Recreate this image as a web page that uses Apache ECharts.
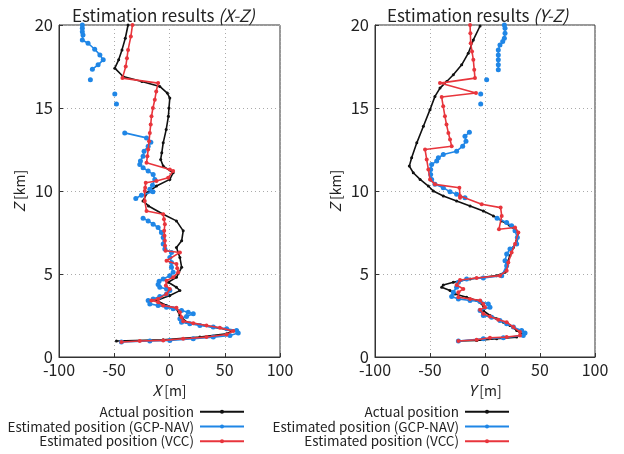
<!DOCTYPE html>
<html>
<head>
<meta charset="utf-8">
<script src="https://cdn.jsdelivr.net/npm/echarts@6/dist/echarts.min.js"></script>
<style>html,body{margin:0;padding:0;background:#fff;}#c{width:624px;height:454px;}</style>
</head>
<body>
<div id="c"></div>
<script>
// ---- data: [horizontal position (m), altitude Z (km)] ----
const GAP = ['-', '-'];
const seriesNames = ['Actual position', 'Estimated position (GCP-NAV)', 'Estimated position (VCC)'];
const xTicks = [-100, -50, 0, 50, 100];
const zTicks = [0, 5, 10, 15, 20];

const xzActual = [[-37.5,20],[-40,19.2],[-43,18.5],[-46,17.9],[-49.5,17.4],[-42,16.9],[-25,16.6],[-8.8,16.3],[-2,15.9],[0.3,15.6],[-0.5,15.0],[-1,14.5],[-3,13.7],[-5.7,12.9],[-7,12.3],[-8,11.9],[-5.7,11.5],[3.3,11.1],[0.3,10.7],[-11.8,10.3],[-20,9.9],[-24,9.4],[-19,9.1],[-5.7,8.6],[6.3,8.2],[12.4,7.6],[11,7.0],[6.3,6.6],[9.4,6.0],[11,5.4],[6.3,4.8],[-1.2,4.5],[6.3,4.2],[9.4,4.0],[0.3,3.7],[-11.8,3.4],[-2.7,3.1],[6.3,2.9],[9.4,2.5],[15.4,2.1],[39.6,1.8],[57.7,1.6],[51.7,1.4],[27.5,1.2],[-5.7,1.04],[-48,0.96]];
const xzGcp = [[-78.9,20],[-78.9,19.8],[-78.9,19.6],[-78.3,19.4],[-78.9,19.1],[-73.7,18.9],[-67.7,18.54],[-63,18.2],[-60,17.9],[-64.6,17.6],[-69.8,17.34],GAP,[-71.6,16.7],GAP,[-49.5,15.84],GAP,[-48,15.24],GAP,
  [-40.5,13.5],[-20.8,13.2],[-16.9,12.94],[-19.3,12.7],[-23,12.4],[-23.9,12.1],[-26.3,11.8],[-26.9,11.6],[-23.9,11.4],[-19.3,11.2],[-14.8,11.0],[-13.3,10.7],[-15.4,10.34],[-17.8,10.1],[-15,9.95],[-25.4,9.75],[-30.5,9.55],GAP,
  [-23.9,8.36],[-19.3,8.2],[-14.8,8.0],[-10.3,7.8],[-7.3,7.5],[-5.7,7.2],[-5.7,6.8],[-4.2,6.5],[1.8,6.3],[0.3,6.0],[1.8,5.7],[1.8,5.4],[3.3,5.1],[0.3,4.9],[-5.7,4.7],[-9.4,4.56],[-10.3,4.36],[-8.8,4.2],[-2.7,4.1],[0.3,4.0],[-2.7,3.8],[-8.8,3.64],[-14.8,3.5],[-19.3,3.4],[-17.8,3.2],[-10.3,3.1],[-2.7,3.0],[3.3,2.9],[10.9,2.8],[16.9,2.7],[21.5,2.6],[15.4,2.44],[9.4,2.3],[10.9,2.1],[18.4,2.0],[27.5,1.9],[39.6,1.8],[51.7,1.7],[60.7,1.6],[62.2,1.44],[54.7,1.3],[39.6,1.2],[21.5,1.1],[0.3,1.0],[-17.8,0.96],[-43.5,0.9]];
const xzVcc = [[-33.5,20],[-35,19.3],[-37.5,18.5],[-38.5,18],[-39.6,17.5],[-42.6,16.8],[-10.3,16.5],[-12,16],[-13.3,15.5],[-15,15],[-16.3,14.5],[-17,14],[-17.8,13.5],[-18.5,13],[-19.3,12.5],[-20,12.1],[-20.8,11.7],[0.3,11.3],[3.3,11.2],[-1.2,10.8],[-11.8,10.6],[-21.5,10.5],[-22,10.2],[-22.4,10.0],[-22.4,9.4],[-20.8,8.8],[-5.7,8.6],[-5,8.3],[-4.2,8.0],[-4.8,7.6],[-4.5,7.3],[-4.2,7.0],[-4,6.7],[-3.6,6.4],[9.4,6.3],[-2.7,5.8],[6.3,5.6],[7,5.35],[7.9,5.1],[3.3,4.8],[-2.7,4.6],[-3.3,4.3],[0.3,4.1],[-2.7,3.8],[-10.3,3.5],[-16.3,3.4],[-10.3,3.3],[-5.7,3.1],[6.3,2.96],[9.4,2.7],[10.9,2.4],[12.4,2.16],[21.5,2.04],[33.5,1.9],[45.6,1.76],[57.7,1.56],[51.7,1.36],[33.5,1.2],[12.4,1.1],[-5.7,1.0],[-26.9,0.96],[-43.5,0.9]];

const yzActual = [[-4.5,19.94],[-10.6,19.1],[-15.2,18.3],[-21.2,17.6],[-28.8,17.0],[-34.8,16.6],[-40.9,16.2],[-45.5,15.7],[-50,14.9],[-56,13.9],[-62,12.9],[-66.7,12.0],[-68.8,11.5],[-65.2,11.1],[-59,10.7],[-51.5,10.3],[-47,10.0],[-37.9,9.7],[-25.8,9.4],[-13.6,9.1],[-1.5,8.8],[7.6,8.5],[15.2,8.2],[22.7,7.9],[30.3,7.5],[28.8,7.0],[25.8,6.6],[22.7,6.1],[19.7,5.6],[18.2,5.1],[10.6,4.9],[-13.6,4.7],[-28.8,4.5],[-37.9,4.34],[-39.4,4.2],[-31.8,4.0],[-27.3,3.8],[-16.7,3.6],[-7.6,3.4],[-1.5,3.1],[-1.5,2.8],[4.5,2.5],[10.6,2.3],[16.7,2.1],[22.7,1.9],[28.8,1.6],[33.3,1.4],[28.8,1.2],[10.6,1.1],[-7.6,1.0],[-24.2,0.96]];
const yzGcp = [[17.6,20],[18.2,19.8],[18.2,19.5],[17.6,19.2],[16.1,19.0],[13.6,18.8],[12.1,18.5],[12.1,18.2],[12.1,17.9],[12.1,17.6],[12.1,17.3],GAP,[1.5,16.7],GAP,[-3.9,15.84],GAP,[-3.9,15.24],GAP,
  [-14.2,13.54],[-18.2,13.3],[-17.3,13.0],[-20.3,12.7],[-25.8,12.4],[-37.9,12.2],[-42.4,12.0],[-43.9,11.8],[-48.5,11.6],[-49.4,11.3],[-49.4,11.0],[-48.5,10.7],[-45.5,10.4],[-37.9,10.2],[-31.8,9.95],[-25.8,9.8],[-18.2,9.6],GAP,
  [11,8.36],[19.7,8.1],[24.2,7.9],[27.3,7.6],[29.4,7.2],[28.8,6.8],[22.7,6.5],[19.7,6.2],[18.2,5.8],[19.7,5.5],[15.2,4.9],[-1.5,4.76],[-16.7,4.7],[-24.2,4.5],[-25.8,4.2],[-28.8,3.9],[-30.3,3.64],[-24.2,3.5],[-13.6,3.4],[-4.5,3.34],[3,3.2],[4.5,3.0],[-4.5,2.8],[-1.5,2.5],[6,2.4],[13.6,2.2],[19.7,2.0],[25.8,1.8],[33.3,1.6],[36.4,1.44],[34.8,1.3],[16.7,1.16],[-1.5,1.1],[-24.2,0.96]];
const yzVcc = [[-13.6,20],[-13.3,19.5],[-13,18.9],[-11.8,18.4],[-10.6,17.9],[-9.8,17.3],[-9.1,16.8],[-40.9,16.5],[-8.2,15.9],[-39.4,15.66],[-38,15.1],[-36.4,14.5],[-35,14],[-33.3,13.5],[-31.8,13.1],[-30.3,12.7],[-54.5,12.5],[-53,11.9],[-51.5,11.3],[-50,10.7],[-45.5,10.4],[-23.3,10.2],[-22.7,9.7],[-22.7,9.6],[-3,9.2],[14.2,9.0],[15.2,8.5],[12.7,7.7],[27.3,7.8],[30.3,7.5],[27.3,6.8],[24.2,6.3],[21.2,5.7],[19.7,5.2],[13.6,4.9],[-7.6,4.76],[-22.7,4.64],[-25.8,4.34],[-19.7,4.1],[-24.2,3.9],[-24.2,3.6],[-13.6,3.5],[-4.5,3.4],[-1.5,3.2],[0,3.0],[-4.5,2.84],[-1.5,2.6],[4.5,2.44],[12.1,2.24],[19.7,2.1],[25.8,1.8],[31.8,1.5],[31.8,1.3],[19.7,1.2],[4.5,1.16],[-7.6,1.04],[-24.2,0.96]];

// ---- chart ----
const FONT = 'Noto Sans CJK JP';
const TXT = '#222';
const colors = ['#111111', '#1f86e6', '#e8353c'];
const symSizes = [3, 5, 4];

function xAx(gi, nm) {
  return {
    gridIndex: gi, type: 'value', min: xTicks[0], max: xTicks[xTicks.length-1], interval: 50,
    name: '{i|' + nm + '} [m]', nameLocation: 'middle', nameGap: 22,
    nameTextStyle: {fontFamily: FONT, fontSize: 14, color: TXT, rich: {i: {fontStyle: 'italic', fontFamily: FONT, fontSize: 15, color: TXT}}},
    axisLine: {show: true, onZero: false, lineStyle: {color: '#333'}},
    axisTick: {show: true, inside: true, length: 4, lineStyle: {color: '#333'}},
    axisLabel: {fontFamily: FONT, fontSize: 16, color: TXT, margin: 5},
    splitLine: {show: true, lineStyle: {type: [1, 3], color: '#aaa'}}
  };
}
function yAx(gi) {
  return {
    gridIndex: gi, type: 'value', min: zTicks[0], max: zTicks[zTicks.length-1], interval: 5,
    name: '{i|Z} [km]', nameLocation: 'middle', nameGap: 32,
    nameTextStyle: {fontFamily: FONT, fontSize: 14, color: TXT, rich: {i: {fontStyle: 'italic', fontFamily: FONT, fontSize: 15, color: TXT}}},
    axisLine: {show: true, onZero: false, lineStyle: {color: '#333'}},
    axisTick: {show: true, inside: true, length: 4, lineStyle: {color: '#333'}},
    axisLabel: {fontFamily: FONT, fontSize: 16.5, color: TXT, margin: 6},
    splitLine: {show: true, lineStyle: {type: [1, 3], color: '#aaa'}}
  };
}
function mk(name, data, gi, k) {
  return {
    name: name, type: 'line', data: data, xAxisIndex: gi, yAxisIndex: gi,
    symbol: 'circle', symbolSize: symSizes[k], showSymbol: true, connectNulls: false,
    color: colors[k], lineStyle: {width: 1.6, color: colors[k]},
    itemStyle: {color: colors[k]}, z: 2 + k, animation: false
  };
}
const legends = [];
[379, 114].forEach(function (r) {
  seriesNames.forEach(function (n, i) {
    legends.push({
      data: [n], right: r, top: 405 + i * 14.7, align: 'right', itemWidth: 44, itemHeight: 5,
      padding: 0, itemGap: 0, selectedMode: false,
      textStyle: {fontFamily: FONT, fontSize: 13.5, color: TXT, padding: [0, 1, 0, 0]}
    });
  });
});
const titleRich = {
  n: {fontFamily: FONT, fontSize: 17, color: TXT},
  i: {fontStyle: 'italic', fontFamily: FONT, fontSize: 17, color: TXT}
};

const chart = echarts.init(document.getElementById('c'));
chart.setOption({
  backgroundColor: '#fff',
  animation: false,
  title: [
    {text: '{n|Estimation results }{i|(X-Z)}', left: 67, top: 2,
     textStyle: {fontFamily: FONT, fontSize: 17, fontWeight: 'normal', color: TXT, rich: titleRich}},
    {text: '{n|Estimation results }{i|(Y-Z)}', left: 382, top: 2,
     textStyle: {fontFamily: FONT, fontSize: 17, fontWeight: 'normal', color: TXT, rich: titleRich}}
  ],
  legend: legends,
  grid: [
    {left: 59, top: 25, width: 221, height: 332, show: true, borderColor: '#333', borderWidth: 1, backgroundColor: 'transparent'},
    {left: 375, top: 25, width: 220, height: 332, show: true, borderColor: '#333', borderWidth: 1, backgroundColor: 'transparent'}
  ],
  xAxis: [xAx(0, 'X'), xAx(1, 'Y')],
  yAxis: [yAx(0), yAx(1)],
  series: [
    mk(seriesNames[0], xzActual, 0, 0),
    mk(seriesNames[1], xzGcp, 0, 1),
    mk(seriesNames[2], xzVcc, 0, 2),
    mk(seriesNames[0], yzActual, 1, 0),
    mk(seriesNames[1], yzGcp, 1, 1),
    mk(seriesNames[2], yzVcc, 1, 2)
  ]
});
</script>
</body>
</html>
